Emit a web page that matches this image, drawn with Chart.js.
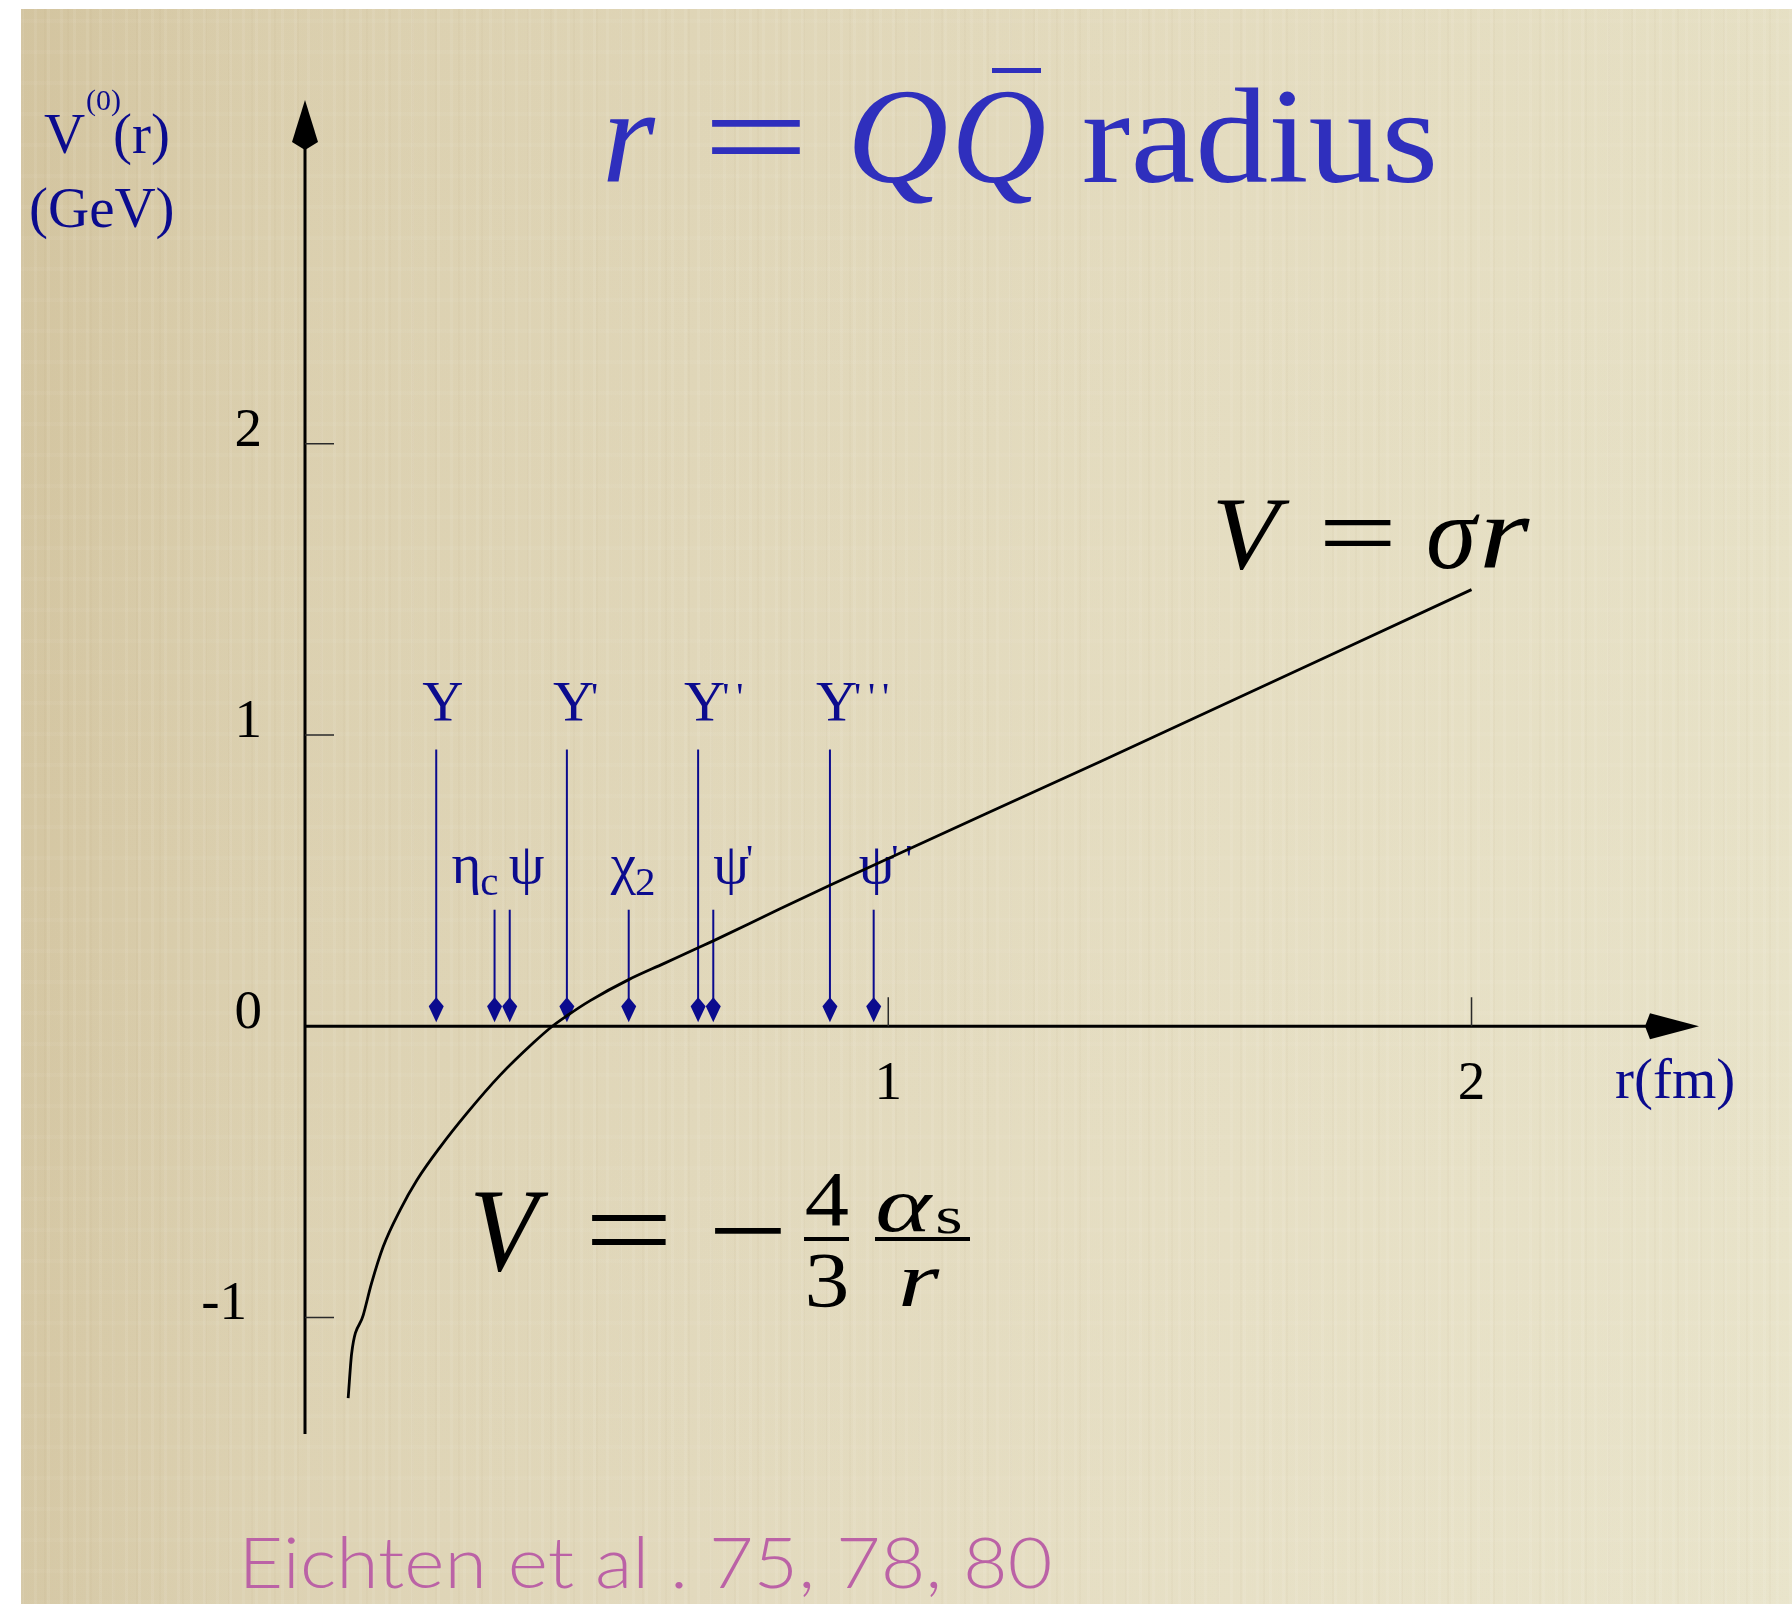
<!DOCTYPE html>
<html>
<head>
<meta charset="utf-8">
<title>Quarkonium potential</title>
<script src="https://cdn.jsdelivr.net/npm/chart.js@4.4.1/dist/chart.umd.min.js"></script>
<style>
  html, body { margin: 0; padding: 0; background: #fff; }
  #sheet {
    position: absolute; left: 21px; top: 9px; width: 1771px; height: 1595px;
    background:
      repeating-linear-gradient(90deg, rgba(255,255,255,0.07) 0 3px, rgba(255,255,255,0) 3px 13px),
      repeating-linear-gradient(90deg, rgba(150,120,70,0.035) 0 2px, rgba(0,0,0,0) 2px 23px),
      repeating-linear-gradient(0deg, rgba(255,255,255,0.04) 0 4px, rgba(0,0,0,0) 4px 31px),
      linear-gradient(180deg, rgba(190,165,110,0.06), rgba(255,255,255,0.03)),
      linear-gradient(90deg, #d4c6a2 0%, #dcd1b1 14%, #e1d8bb 38%, #e6dfc4 68%, #e8e3c9 100%);
  }
  #plot { position: absolute; left: 0; top: 0; }
</style>
</head>
<body>
<div id="sheet"></div>
<canvas id="plot" width="1792" height="1604"></canvas>
<script>
// Static Q-Qbar potential V(r): Coulomb part at short range, linear at long range
const radiusFm = [0.074, 0.080, 0.100, 0.114, 0.134, 0.163, 0.192, 0.232, 0.277, 0.335,
                  0.392, 0.424, 0.449, 0.489, 0.555, 0.615, 0.675, 0.700, 0.803, 0.900, 1.364, 2.000];
const potentialGeV = [-1.277, -1.123, -0.991, -0.883, -0.757, -0.631, -0.528, -0.414, -0.300, -0.167,
                      -0.056, 0.000, 0.036, 0.088, 0.160, 0.215, 0.270, 0.293, 0.392, 0.484, 0.909, 1.499];

const yTicks = [-1, 0, 1, 2];
const xTicks = [1, 2];

// bottomonium states, upper row of arrows
const upsilonNames = ['Υ', 'Υ', 'Υ', 'Υ'];
const upsilonPrimes = [0, 1, 2, 3];
const upsilonRadius = [0.225, 0.449, 0.674, 0.900];

// charmonium states, lower row of arrows
const charmNames = ['η', 'ψ', 'χ', 'ψ', 'ψ'];
const charmSubs = ['c', '', '2', '', ''];
const charmPrimes = [0, 0, 0, 1, 2];
const charmRadius = [0.325, 0.351, 0.555, 0.700, 0.975];

// where the arrows start (GeV)
const upsilonArrowTop = 0.95;
const charmArrowTop = 0.40;

// label placement relative to each arrow (px)
const upsilonLabelShift = [-14, -14, -14, -14];
const charmLabelShift = [-43, -1, -18, 0, -15];

const NAVY = '#0b0b8e';
const SERIF = '"Liberation Serif", "Times New Roman", serif';

function kite(ctx, tipX, tipY, dx, dy, len, corner, half) {
    const px = -dy, py = dx;
    ctx.beginPath();
    ctx.moveTo(tipX, tipY);
    ctx.lineTo(tipX - dx * corner + px * half, tipY - dy * corner + py * half);
    ctx.lineTo(tipX - dx * len, tipY - dy * len);
    ctx.lineTo(tipX - dx * corner - px * half, tipY - dy * corner - py * half);
    ctx.closePath();
    ctx.fill();
}

// draw text so that its ink spans x0..x1
function fitText(ctx, text, x0, x1, baseline) {
    const m = ctx.measureText(text);
    const ink = m.actualBoundingBoxLeft + m.actualBoundingBoxRight;
    ctx.save();
    ctx.translate(x0, baseline);
    ctx.scale((x1 - x0) / ink, 1);
    ctx.textAlign = 'left';
    ctx.fillText(text, m.actualBoundingBoxLeft, 0);
    ctx.restore();
}

function stateLabel(ctx, left, baseline, name, sub, primes) {
    ctx.textAlign = 'left';
    ctx.font = `57px ${SERIF}`;
    ctx.fillText(name, left, baseline);
    let x = left + ctx.measureText(name).width;
    if (sub) {
        ctx.font = `41px ${SERIF}`;
        ctx.fillText(sub, x - 1, baseline + 12);
        x += ctx.measureText(sub).width;
    }
    ctx.font = `40px ${SERIF}`;
    for (let k = 0; k < primes; k++) {
        ctx.fillText("'", x - 3 + k * 14, baseline - 11);
    }
}

const axesPlugin = {
    id: 'axesPlugin',
    beforeDatasetsDraw(chart) {
        const { ctx, scales: { x, y } } = chart;
        const x0 = x.getPixelForValue(0);
        const y0 = y.getPixelForValue(0);
        const xTip = x.getPixelForValue(x.max);
        const yTip = y.getPixelForValue(y.max);
        const yBottom = y.getPixelForValue(y.min);

        ctx.save();
        // axis lines with arrowheads
        ctx.strokeStyle = '#000';
        ctx.fillStyle = '#000';
        ctx.lineWidth = 3;
        ctx.beginPath();
        ctx.moveTo(x0, yBottom);
        ctx.lineTo(x0, yTip + 48);
        ctx.moveTo(x0, y0);
        ctx.lineTo(xTip - 52, y0);
        ctx.stroke();
        kite(ctx, x0, yTip, 0, -1, 50, 42, 13);
        kite(ctx, xTip, y0, 1, 0, 54, 49, 13);

        // tick marks
        ctx.strokeStyle = '#2a2a2a';
        ctx.lineWidth = 1.5;
        ctx.beginPath();
        yTicks.filter(v => v !== 0).forEach(v => {
            const py = y.getPixelForValue(v);
            ctx.moveTo(x0, py);
            ctx.lineTo(x0 + 29, py);
        });
        xTicks.forEach(v => {
            const px = x.getPixelForValue(v);
            ctx.moveTo(px, y0);
            ctx.lineTo(px, y0 - 29);
        });
        ctx.stroke();

        // tick labels
        ctx.fillStyle = '#000';
        ctx.font = `55px ${SERIF}`;
        ctx.textAlign = 'right';
        yTicks.forEach(v => {
            const label = v < 0 ? '-' + Math.abs(v) : String(v);
            ctx.fillText(label, x0 - (v < 0 ? 58 : 43), y.getPixelForValue(v) + 2);
        });
        ctx.textAlign = 'center';
        xTicks.forEach(v => {
            ctx.fillText(String(v), x.getPixelForValue(v), y0 + 73);
        });

        // axis titles
        ctx.fillStyle = NAVY;
        ctx.textAlign = 'left';
        ctx.font = `57px ${SERIF}`;
        ctx.fillText('V', 44, 153);
        ctx.fillText('(r)', 113, 153);
        ctx.fillText('(GeV)', 29, 227);
        ctx.font = `30px ${SERIF}`;
        ctx.fillText('(0)', 86, 110);
        ctx.font = `57px ${SERIF}`;
        ctx.fillText('r(fm)', 1615, y0 + 72);

        // level arrows
        ctx.strokeStyle = NAVY;
        ctx.fillStyle = NAVY;
        ctx.lineWidth = 2;
        const tipY = y0 - 4;
        const drawArrow = (r, top) => {
            const px = x.getPixelForValue(r);
            ctx.beginPath();
            ctx.moveTo(px, y.getPixelForValue(top));
            ctx.lineTo(px, tipY - 22);
            ctx.stroke();
            kite(ctx, px, tipY, 0, 1, 25, 16, 7.5);
        };
        upsilonRadius.forEach(r => drawArrow(r, upsilonArrowTop));
        charmRadius.forEach(r => drawArrow(r, charmArrowTop));

        upsilonRadius.forEach((r, i) => {
            stateLabel(ctx, x.getPixelForValue(r) + upsilonLabelShift[i],
                y.getPixelForValue(upsilonArrowTop) - 29, upsilonNames[i], '', upsilonPrimes[i]);
        });
        charmRadius.forEach((r, i) => {
            stateLabel(ctx, x.getPixelForValue(r) + charmLabelShift[i],
                y.getPixelForValue(charmArrowTop) - 27, charmNames[i], charmSubs[i], charmPrimes[i]);
        });
        ctx.restore();
    }
};

const captionPlugin = {
    id: 'captionPlugin',
    afterDraw(chart) {
        const { ctx } = chart;
        ctx.save();

        // heading: r = Q Qbar radius
        ctx.fillStyle = '#2f2fbd';
        ctx.font = `italic 136px ${SERIF}`;
        fitText(ctx, 'r', 607, 656, 182);
        fitText(ctx, 'Q', 854, 946, 182);
        fitText(ctx, 'Q', 958, 1044, 182);
        ctx.font = `136px ${SERIF}`;
        fitText(ctx, '=', 711, 801, 182);
        fitText(ctx, 'radius', 1084, 1434, 182);
        ctx.fillRect(992, 68, 49, 5);

        // linear branch
        ctx.fillStyle = '#000';
        ctx.font = `italic 104px ${SERIF}`;
        fitText(ctx, 'V', 1217, 1290, 568);
        fitText(ctx, 'σ', 1429, 1480, 568);
        fitText(ctx, 'r', 1484, 1530, 568);
        ctx.font = `104px ${SERIF}`;
        fitText(ctx, '=', 1325, 1391, 568);

        // Coulomb branch
        ctx.font = `italic 118px ${SERIF}`;
        fitText(ctx, 'V', 475, 549, 1270);
        ctx.font = `118px ${SERIF}`;
        fitText(ctx, '=', 591, 666, 1270);
        fitText(ctx, '−', 714, 781, 1270);
        ctx.font = `78px ${SERIF}`;
        fitText(ctx, '4', 806, 848, 1225);
        fitText(ctx, '3', 808, 846, 1306);
        ctx.fillRect(804, 1237, 45, 4);
        ctx.font = `italic 78px ${SERIF}`;
        fitText(ctx, 'α', 878, 934, 1231);
        fitText(ctx, 'r', 902, 940, 1306);
        ctx.font = `52px ${SERIF}`;
        fitText(ctx, 's', 938, 961, 1233);
        ctx.fillRect(875, 1237, 95, 4);

        // reference line
        ctx.fillStyle = '#bb62a6';
        ctx.font = '300 71px Lato, "Open Sans", sans-serif';
        fitText(ctx, 'Eichten et al . 75, 78, 80', 246, 1050, 1588);
        ctx.restore();
    }
};

new Chart(document.getElementById('plot').getContext('2d'), {
    type: 'line',
    data: {
        datasets: [{
            data: radiusFm.map((r, i) => ({ x: r, y: potentialGeV[i] })),
            borderColor: '#000',
            borderWidth: 2.8,
            pointRadius: 0,
            fill: false,
            cubicInterpolationMode: 'monotone'
        }]
    },
    options: {
        responsive: false,
        animation: false,
        events: [],
        layout: { padding: { left: 305, right: 93, top: 100, bottom: 170 } },
        plugins: { legend: { display: false }, tooltip: { enabled: false } },
        scales: {
            x: { type: 'linear', min: 0, max: 2.39, display: false },
            y: { type: 'linear', min: -1.40, max: 3.18, display: false }
        }
    },
    plugins: [axesPlugin, captionPlugin]
});
</script>
</body>
</html>
